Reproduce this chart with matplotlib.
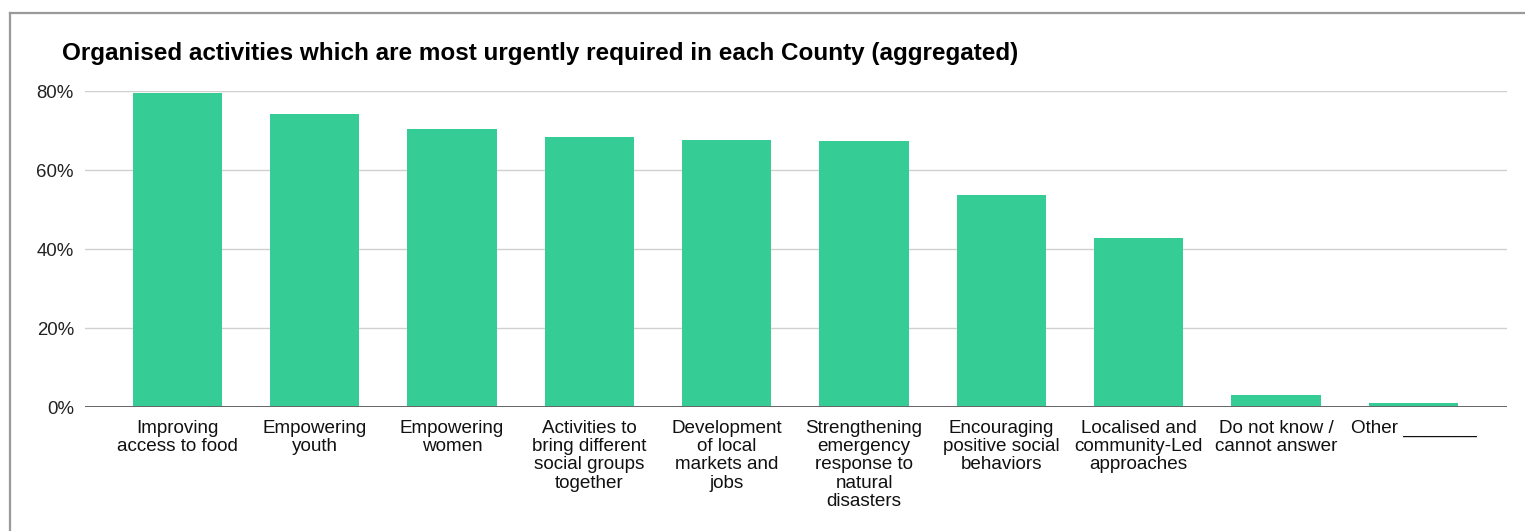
import matplotlib
matplotlib.use("Agg")
import matplotlib.pyplot as plt
from matplotlib.lines import Line2D
from matplotlib.ticker import FuncFormatter

plt.rcParams["font.family"] = ["Liberation Sans", "DejaVu Sans"]

# share of respondents naming each activity (%)
categories = [
    "Improving\naccess to food",
    "Empowering\nyouth",
    "Empowering\nwomen",
    "Activities to\nbring different\nsocial groups\ntogether",
    "Development\nof local\nmarkets and\njobs",
    "Strengthening\nemergency\nresponse to\nnatural\ndisasters",
    "Encouraging\npositive social\nbehaviors",
    "Localised and\ncommunity-Led\napproaches",
    "Do not know /\ncannot answer",
    "Other _______",
]
values = [79.5, 74.3, 70.5, 68.4, 67.7, 67.3, 53.7, 42.8, 3.0, 1.0]
y_ticks = [0, 20, 40, 60, 80]

W, H = 1525, 531
fig = plt.figure(figsize=(W / 100, H / 100), dpi=100)
ax = fig.add_axes([85 / W, 1 - 407.3 / H, (1507 - 85) / W, (407.3 - 91.3) / H])

x = range(len(values))
ax.bar(x, values, width=0.65, color="#35cd95", zorder=3)

ax.set_xlim(-0.672, 9.681)
ax.set_ylim(0, 80)
ax.set_yticks(y_ticks)
ax.yaxis.set_major_formatter(FuncFormatter(lambda v, _: f"{v:.0f}%"))
ax.grid(axis="y", color="#d0d0d0", linewidth=1.0, zorder=0)
ax.axhline(0, color="#666666", linewidth=1.4, zorder=4)

ax.set_xticks(list(x))
ax.set_xticklabels(categories, fontsize=13.6, linespacing=1.1, color="#111111")
ax.tick_params(axis="x", length=0, pad=9)
ax.tick_params(axis="y", length=0, pad=8, labelsize=13.4, labelcolor="#222222")
for s in ax.spines.values():
    s.set_visible(False)

fig.text(62 / W, 1 - 60 / H, "Organised activities which are most urgently required in each County (aggregated)",
         fontsize=17.5, fontweight="bold", color="#000000", ha="left", va="baseline")

# frame on the left and top edges
fig.add_artist(Line2D([10 / W, 10 / W], [0, 1 - 13 / H], transform=fig.transFigure,
                      color="#9a9a9a", linewidth=1.6))
fig.add_artist(Line2D([10 / W, 1], [1 - 13 / H, 1 - 13 / H], transform=fig.transFigure,
                      color="#9a9a9a", linewidth=1.6))

fig.savefig("out.png", dpi=100, facecolor="white")
